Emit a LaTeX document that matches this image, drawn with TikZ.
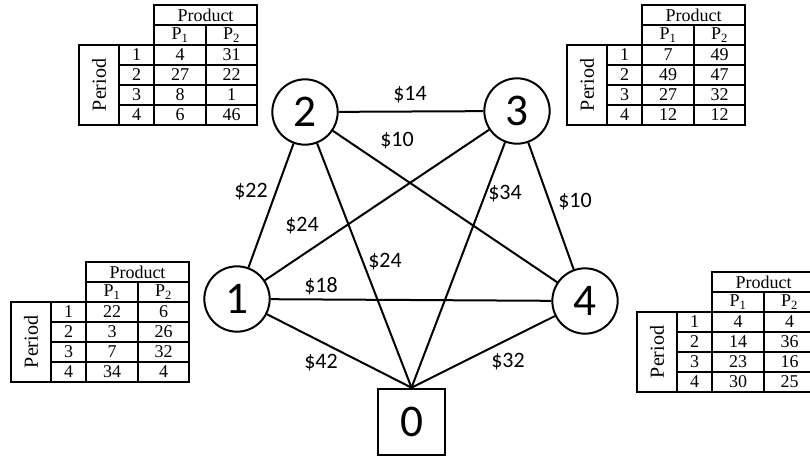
\documentclass[tikz,border=0pt]{standalone}
\usepackage{fontspec}
\setmainfont{Liberation Serif}
\newfontfamily\labfont{Carlito}

% demand table: x, y of top left corner, rows P1/P2
\newcommand{\prodtab}[3]{%
	\begin{scope}[shift={(#1,#2)}, line width=0.8pt, font=\fontsize{13.5}{15}\selectfont]
		\draw (75,0) rectangle (178,40);
		\draw (75,20) -- (178,20);
		\draw (127,20) -- (127,40);
		\draw (0,40) rectangle (178,120);
		\foreach \xx in {40,75,127} \draw (\xx,40) -- (\xx,120);
		\foreach \yy in {60,80,100} \draw (40,\yy) -- (178,\yy);
		\node at (126.5,10) {Product};
		\node at (101,30) {P\textsubscript{1}};
		\node at (152.5,30) {P\textsubscript{2}};
		\node[rotate=90, font=\fontsize{15}{16}\selectfont] at (20,80) {Period};
		\foreach \pa/\pb [count=\i] in {#3} {
			\node at (57.5,30+20*\i) {\i};
			\node at (101,30+20*\i) {\pa};
			\node at (152.5,30+20*\i) {\pb};
		}
	\end{scope}}

\begin{document}
\begin{tikzpicture}[x=0.75pt, y=-0.75pt,
		city/.style={circle, draw, line width=1.5pt, minimum size=49pt, inner sep=0pt, font=\labfont\fontsize{34}{34}\selectfont},
		depot/.style={rectangle, draw, line width=1.5pt, minimum size=50pt, inner sep=0pt, font=\labfont\fontsize{34}{34}\selectfont},
		road/.style={line width=1.5pt},
		cost/.style={font=\labfont\fontsize{16.5}{16.5}\selectfont}]
		\useasboundingbox (0,0) rectangle (810,458);
		\clip (0,0) rectangle (810,458);
		
		\node[city] (n1) at (237,299) {1};
		\node[city] (n2) at (305,112) {2};
		\node[city] (n3) at (517,111) {3};
		\node[city] (n4) at (585,301) {4};
		\node[depot] (n0) at (411.5,422) {0};
		
		\draw[road] (n1) -- (n2);
		\draw[road] (n1) -- (n3);
		\draw[road] (n1) -- (n4);
		\draw[road] (n1) -- (n0.north);
		\draw[road] (n2) -- (n3);
		\draw[road] (n2) -- (n4);
		\draw[road] (n2) -- (n0.north);
		\draw[road] (n3) -- (n4);
		\draw[road] (n3) -- (n0.north);
		\draw[road] (n4) -- (n0.north);
		
		\node[cost] (c23) at (410,95) {\$14};
		\node[cost] (c24) at (397,141) {\$10};
		\node[cost] (c12) at (251,192) {\$22};
		\node[cost] (c13) at (302,226) {\$24};
		\node[cost] (c30) at (505,194) {\$34};
		\node[cost] (c34) at (575,202) {\$10};
		\node[cost] (c20) at (385,262) {\$24};
		\node[cost] (c14) at (321,286) {\$18};
		\node[cost] (c10) at (321,363) {\$42};
		\node[cost] (c40) at (508,362) {\$32};
		
		\prodtab{79}{5}{4/31,27/22,8/1,6/46}
		\prodtab{567}{5}{7/49,49/47,27/32,12/12}
		\prodtab{11}{262}{22/6,3/26,7/32,34/4}
		\prodtab{637}{272}{4/4,14/36,23/16,30/25}
	\end{tikzpicture}
\end{document}
